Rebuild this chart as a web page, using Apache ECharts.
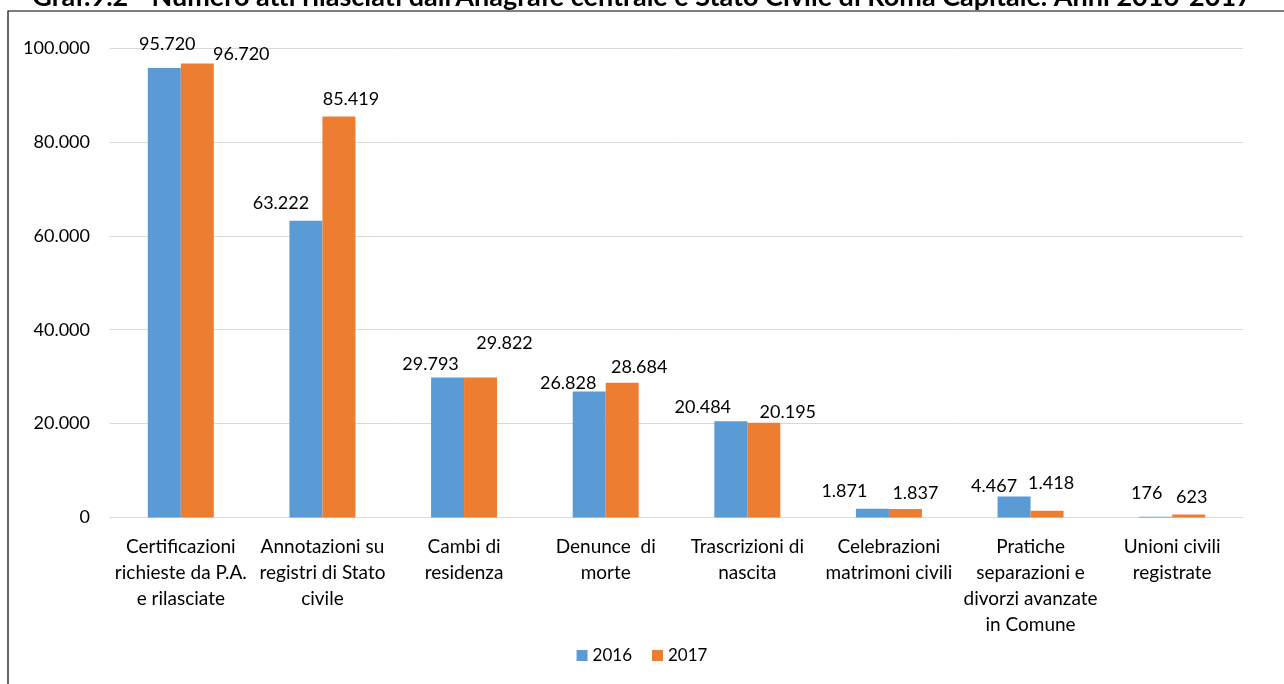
<!DOCTYPE html>
<html>
<head>
<meta charset="utf-8">
<script src="https://cdn.jsdelivr.net/npm/echarts@6/dist/echarts.min.js"></script>
<style>
  html, body { margin: 0; padding: 0; background: #fff; }
  #chart { width: 1284px; height: 684px; }
</style>
</head>
<body>
<div id="chart"></div>
<script>
// Atti rilasciati - Anagrafe centrale e Stato Civile, 2016-2017
const categories = [
    'Certificazioni\nrichieste da P.A.\ne rilasciate',
    'Annotazioni su\nregistri di Stato\ncivile',
    'Cambi di\nresidenza',
    'Denunce  di\nmorte',
    'Trascrizioni di\nnascita',
    'Celebrazioni\nmatrimoni civili',
    'Pratiche\nseparazioni e\ndivorzi avanzate\nin Comune',
    'Unioni civili\nregistrate'
];
const values2016 = [95720, 63222, 29793, 26828, 20484, 1871, 4467, 176];
const values2017 = [96720, 85419, 29822, 28684, 20195, 1837, 1418, 623];
const seriesNames = ['2016', '2017'];

// spostamenti delle etichette (come nel grafico originale, posizionate a mano)
const labelOffset2016 = [[3, -7], [-25, 0], [-17, 4], [-21, 9], [-28, 3], [-28, -1], [-20, 7], [-9, -6]];
const labelOffset2017 = [[44, 8], [12, 0], [24, -17], [17, 1], [24, 7], [10, 1], [4, -11], [3, 0]];

// formato italiano: punto come separatore delle migliaia
function fmtIt(v) {
    return String(v).replace(/\B(?=(\d{3})+(?!\d))/g, '.');
}

const FONT = 'Lato, "Liberation Sans", sans-serif';

function barSeries(name, values, offsets, color) {
    return {
        name: name,
        type: 'bar',
        data: values.map((v, i) => ({ value: v, label: { offset: offsets[i] } })),
        barWidth: 33,
        barGap: '0%',
        itemStyle: { color: color },
        label: {
            show: true,
            position: 'top',
            distance: 8,
            fontFamily: FONT,
            fontSize: 18,
            color: '#000',
            formatter: p => fmtIt(p.value)
        }
    };
}

const chart = echarts.init(document.getElementById('chart'));

const option = {
    animation: false,
    textStyle: { fontFamily: FONT, color: '#000' },
    title: {
        text: "Graf.9.2 - Numero atti rilasciati dall'Anagrafe centrale e Stato Civile di Roma Capitale. Anni 2016-2017",
        left: 'center',
        top: -21,
        textStyle: { fontFamily: FONT, fontSize: 27, fontWeight: 'bold', color: '#000' }
    },
    graphic: [{
        type: 'rect',
        shape: { x: 8, y: 11, width: 1300, height: 700 },
        style: { fill: 'none', stroke: '#000', lineWidth: 1.2 },
        silent: true
    }],
    legend: {
        data: seriesNames,
        bottom: 15,
        left: 'center',
        itemWidth: 11,
        itemHeight: 11,
        itemGap: 20,
        icon: 'rect',
        textStyle: { fontFamily: FONT, fontSize: 17, color: '#000' }
    },
    grid: { left: 110, right: 41, top: 48, bottom: 166.5 },
    xAxis: {
        type: 'category',
        data: categories,
        axisLine: { show: true, lineStyle: { color: '#d9d9d9', width: 1 } },
        axisTick: { show: false },
        axisLabel: {
            interval: 0,
            fontFamily: FONT,
            fontSize: 19,
            color: '#000',
            lineHeight: 26,
            margin: 16
        }
    },
    yAxis: {
        type: 'value',
        min: 0,
        max: 100000,
        interval: 20000,
        axisLine: { show: false },
        axisTick: { show: false },
        splitLine: { lineStyle: { color: '#d9d9d9', width: 1 } },
        axisLabel: {
            fontFamily: FONT,
            fontSize: 18,
            color: '#000',
            margin: 20,
            formatter: fmtIt
        }
    },
    series: [
        barSeries(seriesNames[0], values2016, labelOffset2016, '#5b9bd5'),
        barSeries(seriesNames[1], values2017, labelOffset2017, '#ed7d31')
    ]
};

chart.setOption(option);
</script>
</body>
</html>
